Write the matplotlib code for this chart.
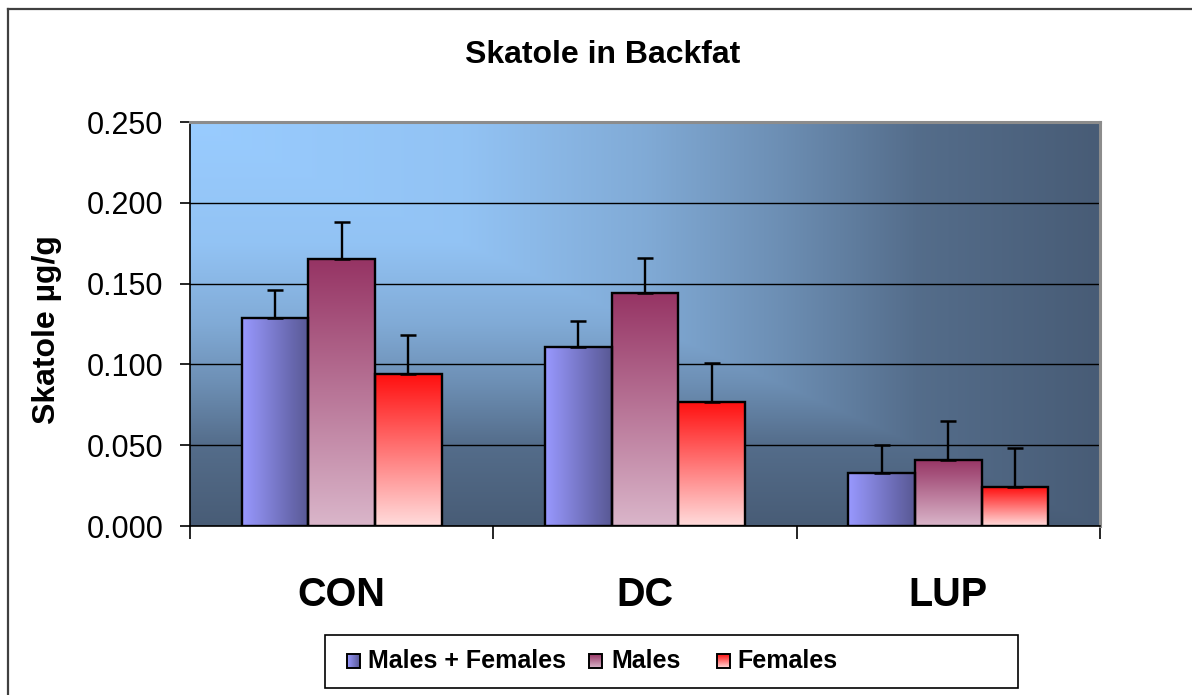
import matplotlib
matplotlib.use('Agg')
import matplotlib.pyplot as plt
import numpy as np
from matplotlib import font_manager
from matplotlib.lines import Line2D
from matplotlib.patches import Rectangle
from matplotlib.ticker import FixedLocator

# data
categories = ['CON', 'DC', 'LUP']
series = ['Males + Females', 'Males', 'Females']
both_sexes = [0.129, 0.111, 0.033]
males = [0.165, 0.144, 0.041]
females = [0.094, 0.077, 0.024]
both_err = [0.017, 0.016, 0.017]
males_err = [0.023, 0.022, 0.024]
females_err = [0.024, 0.024, 0.024]
y_ticks = [0.0, 0.05, 0.10, 0.15, 0.20, 0.25]

W, H = 1192, 695
plt.rcParams['font.family'] = ['Liberation Sans', 'DejaVu Sans']


def has_font(name):
    try:
        font_manager.findfont(name, fallback_to_default=False)
        return True
    except ValueError:
        return False


def gradient(c_start, c_end, vertical, n=256):
    """RGB image running from c_start to c_end (top->bottom or left->right)."""
    t = np.linspace(0, 1, n)
    c0 = np.array(c_start) / 255.0
    c1 = np.array(c_end) / 255.0
    line = c0[None, :] + (c1 - c0)[None, :] * t[:, None]
    if vertical:
        return line[:, None, :]
    return line[None, :, :]


# fill style per series: (start colour, end colour, vertical?)
fills = [((153, 153, 255), (88, 88, 148), False),
         ((150, 52, 100), (218, 182, 202), True),
         ((255, 15, 15), (255, 220, 220), True)]

fig = plt.figure(figsize=(W / 100, H / 100), dpi=100)
ax = fig.add_axes([190 / W, 1 - 526 / H, 910 / W, 404 / H])

# plot area background: "from corner" fill, light blue top-left to dark slate
xs = np.linspace(0, 1, 500)
ys = np.linspace(0, 1, 250)
t = np.maximum(xs[None, :], ys[:, None])
t = np.interp(t, [0, 0.3, 0.5, 0.65, 0.8, 1.0], [0, 0.08, 0.3, 0.55, 0.85, 1.0])
c0 = np.array([153, 204, 255]) / 255.0
c1 = np.array([72, 92, 118]) / 255.0
bg = c0 + (c1 - c0) * t[:, :, None]
ax.imshow(bg, extent=[-0.5, 2.5, 0, 0.25], aspect='auto', zorder=0, origin='upper')

x = np.arange(len(categories))
width = 0.22
values = [both_sexes, males, females]
errors = [both_err, males_err, females_err]

for i, (vals, errs, fill) in enumerate(zip(values, errors, fills)):
    pos = x + (i - 1) * width
    bars = ax.bar(pos, vals, width, facecolor='none', edgecolor='black',
                  linewidth=1.7, zorder=3)
    img = gradient(fill[0], fill[1], fill[2])
    for rect in bars:
        bx, bw, bh = rect.get_x(), rect.get_width(), rect.get_height()
        im = ax.imshow(img, extent=[bx, bx + bw, 0, bh], aspect='auto',
                       zorder=2, origin='upper')
        im.set_clip_path(rect)
    ax.errorbar(pos, vals, yerr=[np.zeros(len(vals)), errs], fmt='none',
                ecolor='black', elinewidth=1.7, capsize=6, capthick=1.8, zorder=4)

ax.set_xlim(-0.5, 2.5)
ax.set_ylim(0, 0.25)
ax.set_yticks(y_ticks)
ax.set_yticklabels(['{:.3f}'.format(v) for v in y_ticks], fontsize=22)
ax.set_xticks(x)
ax.set_xticklabels(categories, fontsize=28.5, fontweight='bold')
ax.xaxis.set_minor_locator(FixedLocator([-0.5, 0.5, 1.5, 2.5]))
ax.tick_params(axis='x', which='major', length=0, pad=36)
ax.tick_params(axis='x', which='minor', length=9, width=1.2, color='black')
ax.tick_params(axis='y', length=7, width=1.2, pad=12)

ax.set_axisbelow(True)
ax.yaxis.grid(True, color='black', linewidth=1.0)
for side in ['left', 'bottom']:
    ax.spines[side].set_color('black')
    ax.spines[side].set_linewidth(1.2)
for side in ['top', 'right']:
    ax.spines[side].set_color('#8c8c8c')
    ax.spines[side].set_linewidth(2.2)

fig.text(603 / W, 1 - 55 / H, 'Skatole in Backfat', fontsize=23, fontweight='bold',
         ha='center', va='center')
fig.text(47 / W, 1 - 330 / H, 'Skatole µg/g', fontsize=23, fontweight='bold',
         rotation=90, ha='center', va='center')

# chart frame, only left and top edges fall inside the picture
fig.add_artist(Line2D([8 / W, 8 / W], [0, 1 - 9 / H], color='#404040', linewidth=1.6))
fig.add_artist(Line2D([8 / W, 1], [1 - 9 / H, 1 - 9 / H], color='#404040', linewidth=1.6))

# legend box
leg = fig.add_axes([325 / W, 1 - 688 / H, 693 / W, 53 / H])
leg.set_xlim(0, 693)
leg.set_ylim(0, 53)
leg.axis('off')
leg.add_patch(Rectangle((0, 0), 693, 53, fill=False, edgecolor='black', linewidth=1.2,
                        clip_on=False))
if has_font('Liberation Sans Narrow'):
    leg_font = dict(family=['Liberation Sans Narrow', 'DejaVu Sans'], fontsize=20)
else:
    leg_font = dict(fontsize=18)
marker_x = [22, 264, 392]
text_x = [43, 286, 412]
for name, fill, mx, tx in zip(series, fills, marker_x, text_x):
    sq = Rectangle((mx, 20), 13, 14, facecolor='none', edgecolor='black', linewidth=1.4,
                   zorder=3)
    leg.add_patch(sq)
    leg.imshow(gradient(fill[0], fill[1], fill[2]), extent=[mx, mx + 13, 20, 34],
               aspect='auto', zorder=2, origin='upper')
    leg.text(tx, 27, name, fontweight='bold', ha='left', va='center', **leg_font)
leg.set_xlim(0, 693)
leg.set_ylim(0, 53)

fig.savefig('out.png', dpi=100)
